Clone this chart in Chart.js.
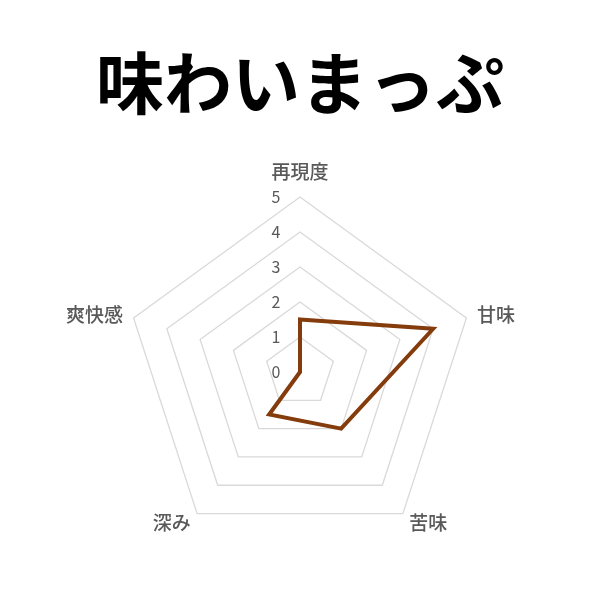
<!DOCTYPE html>
<html>
<head>
<meta charset="utf-8">
<script src="https://cdn.jsdelivr.net/npm/chart.js@4"></script>
<style>
  html, body { margin: 0; padding: 0; background: #fff; }
  #wrap { width: 600px; height: 600px; }
</style>
</head>
<body>
<div id="wrap"><canvas id="grafico"></canvas></div>
<script>
// dados do grafico
const titulo = "味わいまっぷ"
const categorias = ["再現度", "甘味", "苦味", "深み", "爽快感"]
const valores = [1.5, 4, 2, 1.5, 0]
const escalaMin = 0
const escalaMax = 5

const fonteJP = "'Noto Sans CJK JP', 'Noto Sans', sans-serif"

// numeros do eixo um pouco a esquerda e nomes das categorias na altura do vertice
const rotulos = {
    id: 'rotulos',
    afterDatasetsDraw(chart) {
        const r = chart.scales.r
        const ctx = chart.ctx
        ctx.save()
        ctx.fillStyle = "#595959"

        ctx.font = "16px " + fonteJP
        ctx.textAlign = "center"
        ctx.textBaseline = "middle"
        for (const t of r.ticks) {
            const d = r.getDistanceFromCenterForValue(t.value)
            ctx.fillText(String(t.value), r.xCenter - 24, r.yCenter - d)
        }

        ctx.font = "500 19px " + fonteJP
        categorias.forEach(function(nome, i) {
            let pos = r.getPointPosition(i, r.drawingArea + 11)
            if (Math.abs(pos.x - r.xCenter) < 1) {
                pos = r.getPointPosition(i, r.drawingArea + 16)
                ctx.textAlign = "center"
                ctx.textBaseline = "bottom"
            } else {
                ctx.textAlign = pos.x > r.xCenter ? "left" : "right"
                ctx.textBaseline = "middle"
            }
            ctx.fillText(nome, pos.x, pos.y)
        })
        ctx.restore()
    }
}

const graficoReal = document.getElementById('grafico')
new Chart(graficoReal, {
    type: 'radar',
    data: {
        labels: categorias,
        datasets: [{
            data: valores,
            borderColor: '#843c0c',
            borderWidth: 4,
            borderJoinStyle: 'miter',
            backgroundColor: 'rgba(0,0,0,0)',
            fill: false,
            pointRadius: 0,
            tension: 0
        }]
    },
    options: {
        responsive: true,
        maintainAspectRatio: false,
        animation: false,
        layout: { padding: { top: 0, bottom: 52, left: 0, right: 0 } },
        plugins: {
            legend: { display: false },
            tooltip: { enabled: false },
            title: {
                display: true,
                text: titulo,
                color: '#000',
                font: { family: fonteJP, size: 68, weight: 'bold' },
                padding: { top: 42, bottom: 74 }
            }
        },
        scales: {
            r: {
                min: escalaMin,
                max: escalaMax,
                ticks: { stepSize: 1, display: false },
                grid: { color: '#d9d9d9', lineWidth: 1.3 },
                angleLines: { display: false },
                pointLabels: { display: false }
            }
        }
    },
    plugins: [rotulos]
})
</script>
</body>
</html>
